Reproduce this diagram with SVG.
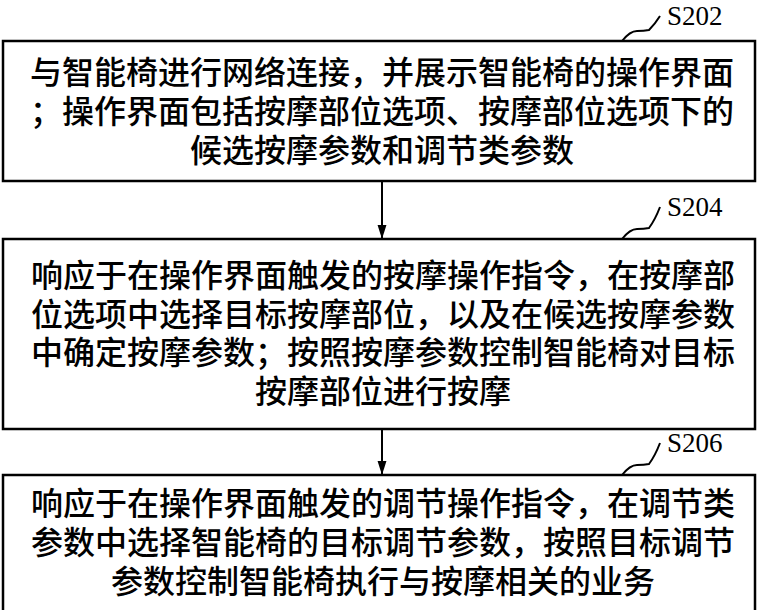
<svg xmlns="http://www.w3.org/2000/svg" width="757" height="610" viewBox="0 0 757 610">
<defs>
<marker id="arrow" markerWidth="14" markerHeight="22" refX="22" refY="7" viewBox="0 0 22 14" markerUnits="userSpaceOnUse" orient="auto">
<polygon points="0,0 22,7 0,14" fill="#000"/>
</marker>
<style>
.box{fill:#fff;stroke:#000;stroke-width:2.5}
.t{font-family:"Noto Sans CJK SC","Noto Sans CJK JP",sans-serif;font-size:32px;font-weight:500;fill:#000;text-anchor:middle}
.lbl{font-family:"Liberation Serif",serif;font-size:27px;fill:#000}
.sq{fill:none;stroke:#000;stroke-width:2}
.conn{stroke:#000;stroke-width:2;fill:none}
</style>
</defs>
<rect width="757" height="610" fill="#fff"/>
<g id="connectors">
<line class="conn" x1="382" y1="182" x2="382" y2="239" marker-end="url(#arrow)"/>
<line class="conn" x1="382" y1="429" x2="382" y2="475" marker-end="url(#arrow)"/>
</g>
<g id="S202">
<rect class="box" x="3" y="41" width="752" height="140"/>
<path class="sq" d="M622 41 Q630 31 637 31 T649 30 Q655 24 660 16"/>
<text class="lbl" x="667" y="25">S202</text>
<text class="t" x="382" y="84"><tspan x="382">与智能椅进行网络连接，并展示智能椅的操作界面</tspan><tspan x="382" dy="39">；操作界面包括按摩部位选项、按摩部位选项下的</tspan><tspan x="382" dy="39">候选按摩参数和调节类参数</tspan></text>
</g>
<g id="S204">
<rect class="box" x="3" y="239" width="752" height="190"/>
<path class="sq" d="M622 239 Q630 229 637 229 T649 228 Q655 220 660 207"/>
<text class="lbl" x="667" y="216">S204</text>
<text class="t" x="383" y="287"><tspan x="383">响应于在操作界面触发的按摩操作指令，在按摩部</tspan><tspan x="383" dy="38.5">位选项中选择目标按摩部位，以及在候选按摩参数</tspan><tspan x="383" dy="38.5">中确定按摩参数；按照按摩参数控制智能椅对目标</tspan><tspan x="383" dy="38.5">按摩部位进行按摩</tspan></text>
</g>
<g id="S206">
<rect class="box" x="3" y="475" width="752" height="145"/>
<path class="sq" d="M622 475 Q630 465 637 465 T649 464 Q655 456 660 443"/>
<text class="lbl" x="667" y="452">S206</text>
<text class="t" x="383" y="515"><tspan x="383">响应于在操作界面触发的调节操作指令，在调节类</tspan><tspan x="383" dy="39">参数中选择智能椅的目标调节参数，按照目标调节</tspan><tspan x="383" dy="39">参数控制智能椅执行与按摩相关的业务</tspan></text>
</g>
</svg>
